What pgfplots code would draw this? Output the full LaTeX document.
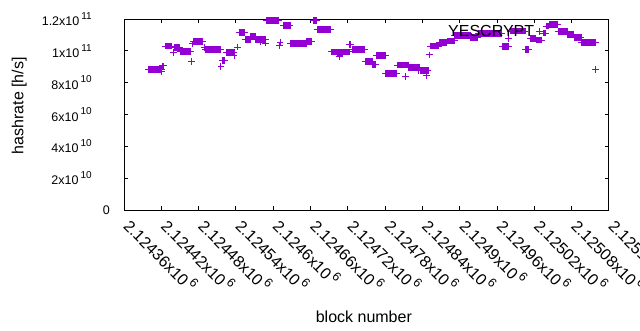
\documentclass[border=0pt]{standalone}
\usepackage{fontspec}
\setmainfont{Liberation Sans}
\usepackage{pgfplots}
\pgfplotsset{compat=1.18}
\definecolor{gpviolet}{RGB}{148,0,211}
\newcommand{\xsup}[1]{\,\raisebox{0.42em}{\fontsize{12.5}{13}\selectfont #1}}
\newcommand{\ysup}[1]{\,\raisebox{0.5em}{\fontsize{10}{11}\selectfont #1}\hspace*{18pt}}
\begin{document}
\begin{tikzpicture}[font=\fontsize{16}{19}\selectfont]
\path[use as bounding box] (0,0) rectangle (640pt,330pt);
% x = block number - 2124000
\begin{axis}[
  at={(124pt,120pt)}, anchor=south west,
  scale only axis, width=485pt, height=191pt,
  xmin=360, xmax=1140, ymin=0, ymax=1.2e11,
  scaled y ticks=false, scaled x ticks=false,
  clip=false,
  tick align=inside, tick pos=both,
  major tick length=4pt,
  axis line style={line width=1pt},
  every tick/.style={black, line width=1pt},
  xtick={360,420,480,540,600,660,720,780,840,900,960,1020,1080,1140},
  xticklabels={2.12436x10\xsup{6},2.12442x10\xsup{6},2.12448x10\xsup{6},2.12454x10\xsup{6},2.1246x10\xsup{6},2.12466x10\xsup{6},2.12472x10\xsup{6},2.12478x10\xsup{6},2.12484x10\xsup{6},2.1249x10\xsup{6},2.12496x10\xsup{6},2.12502x10\xsup{6},2.12508x10\xsup{6},2.12514x10\xsup{6}},
  xticklabel style={font=\fontsize{16}{19}\selectfont, inner sep=0pt, xshift=4pt, yshift=-12pt, rotate=-45, anchor=west},
  ytick={0,2e10,4e10,6e10,8e10,1e11,1.2e11},
  yticklabels={0,2x10\ysup{10},4x10\ysup{10},6x10\ysup{10},8x10\ysup{10},1x10\ysup{11},1.2x10\ysup{11}},
  yticklabel style={font=\fontsize{12.5}{14}\selectfont, inner sep=0pt, anchor=east, xshift=-14pt},
  xlabel={block number},
  xlabel style={at={(axis description cs:0.4946,-0.588)}, anchor=base, inner sep=0pt},
  ylabel={hashrate [h/s]},
  ylabel style={at={(axis description cs:-0.2076,0.546)}, anchor=base, inner sep=0pt},
  legend plot pos=right,
  legend style={draw=none, fill=none, at={(axis description cs:0.870,0.934)}, anchor=east, font=\fontsize{16}{19}\selectfont},
  legend image code/.code={\draw[gpviolet, line width=1pt, mark=+, mark size=3.3pt] plot coordinates {(0.3cm,0cm)};},
  unbounded coords=jump,
]
\addplot[gpviolet, line width=6.8pt, line cap=butt, mark=+, mark size=3.4pt, mark options={line width=1pt, solid}] coordinates {
(399,8.84e10) (421,8.84e10) (421,nan)
(420,8.70e10) (420,nan)
(422,9.05e10) (424,9.05e10) (424,nan)
(426,10.30e10) (436,10.30e10) (436,nan)
(439,9.88e10) (439,nan)
(442,10.22e10) (450,10.22e10) (450,nan)
(451,9.96e10) (467,9.96e10) (467,nan)
(468,9.33e10) (468,nan)
(470,10.43e10) (470,nan)
(472,10.60e10) (487,10.60e10) (487,nan)
(489,10.21e10) (489,nan)
(491,10.10e10) (515,10.10e10) (515,nan)
(516,9.00e10) (516,nan)
(519,9.40e10) (522,9.40e10) (522,nan)
(525,9.90e10) (537,9.90e10) (537,nan)
(537,9.71e10) (537,nan)
(542,10.24e10) (542,nan)
(546,11.14e10) (554,11.14e10) (554,nan)
(555,10.72e10) (563,10.72e10) (563,nan)
(564,10.91e10) (571,10.91e10) (571,nan)
(572,10.70e10) (588,10.70e10) (588,nan)
(580,10.59e10) (580,nan)
(588,10.49e10) (588,nan)
(589,11.92e10) (609,11.92e10) (609,nan)
(610,10.34e10) (610,nan)
(611,10.54e10) (611,nan)
(616,11.60e10) (627,11.60e10) (627,nan)
(628,10.48e10) (653,10.48e10) (653,nan)
(654,10.60e10) (662,10.60e10) (662,nan)
(664,11.92e10) (670,11.92e10) (670,nan)
(671,11.35e10) (692,11.35e10) (692,nan)
(693,9.93e10) (722,9.93e10) (722,nan)
(703,9.80e10) (712,9.80e10) (712,nan)
(707,9.64e10) (707,nan)
(723,10.38e10) (725,10.38e10) (725,nan)
(727,10.09e10) (747,10.09e10) (747,nan)
(749,9.32e10) (759,9.32e10) (759,nan)
(760,9.13e10) (764,9.13e10) (764,nan)
(766,9.71e10) (780,9.71e10) (780,nan)
(781,8.59e10) (799,8.59e10) (799,nan)
(800,9.11e10) (817,9.11e10) (817,nan)
(813,8.37e10) (813,nan)
(818,8.97e10) (836,8.97e10) (836,nan)
(833,8.75e10) (833,nan)
(837,8.78e10) (849,8.78e10) (849,nan)
(846,8.42e10) (846,nan)
(851,9.74e10) (851,nan)
(853,10.30e10) (866,10.30e10) (866,nan)
(867,10.51e10) (879,10.51e10) (879,nan)
(880,10.62e10) (891,10.62e10) (891,nan)
(892,10.98e10) (917,10.98e10) (917,nan)
(918,10.85e10) (929,10.85e10) (929,nan)
(930,11.10e10) (967,11.10e10) (967,nan)
(968,10.26e10) (979,10.26e10) (979,nan)
(979,10.79e10) (979,nan)
(982,11.24e10) (1005,11.24e10) (1005,nan)
(1006,10.09e10) (1011,10.09e10) (1011,nan)
(1013,10.76e10) (1022,10.76e10) (1022,nan)
(1023,10.68e10) (1032,10.68e10) (1032,nan)
(1034,11.12e10) (1038,11.12e10) (1038,nan)
(1039,11.56e10) (1043,11.56e10) (1043,nan)
(1044,11.67e10) (1057,11.67e10) (1057,nan)
(1058,11.21e10) (1073,11.21e10) (1073,nan)
(1074,11.03e10) (1083,11.03e10) (1083,nan)
(1084,10.84e10) (1095,10.84e10) (1095,nan)
(1096,10.51e10) (1119,10.51e10) (1119,nan)
(1118,8.84e10)
};
\addlegendentry{YESCRYPT}
\end{axis}
\end{tikzpicture}
\end{document}
